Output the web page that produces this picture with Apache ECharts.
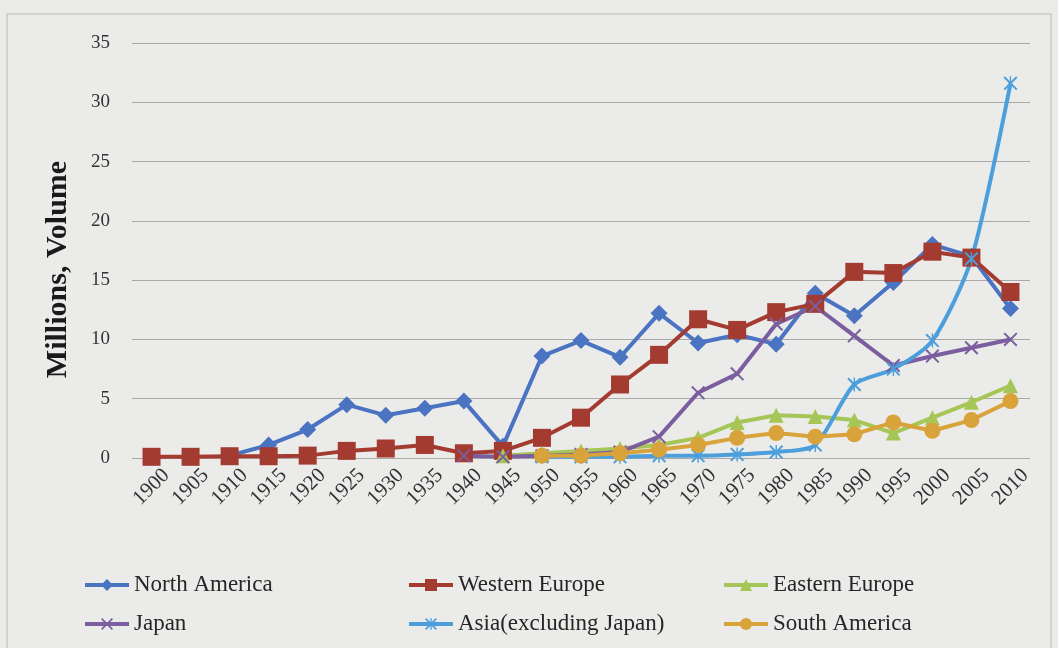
<!DOCTYPE html>
<html>
<head>
<meta charset="utf-8">
<script src="https://cdn.jsdelivr.net/npm/echarts@6/dist/echarts.min.js"></script>
<style>
  html, body { margin: 0; padding: 0; background: #ebebe9; }
  #chart { width: 1058px; height: 648px; }
</style>
</head>
<body>
<div id="chart"></div>
<script>
// Vehicle production by region, 1900–2010 (millions)
const years = ['1900','1905','1910','1915','1920','1925','1930','1935','1940','1945','1950','1955',
               '1960','1965','1970','1975','1980','1985','1990','1995','2000','2005','2010'];

const northAmerica = [null, null, 0.2, 1.1, 2.4, 4.5, 3.6, 4.2, 4.8, 1.0, 8.6, 9.9,
                      8.5, 12.2, 9.7, 10.4, 9.6, 13.9, 12.0, 14.8, 18.0, 17.0, 12.6];
const westernEurope = [0.1, 0.1, 0.15, 0.15, 0.2, 0.6, 0.8, 1.1, 0.4, 0.6, 1.7, 3.4,
                       6.2, 8.7, 11.7, 10.8, 12.3, 13.0, 15.7, 15.6, 17.4, 16.9, 14.0];
const easternEurope = [null, null, null, null, null, null, null, null, null, 0.2, 0.4, 0.6,
                       0.8, 1.1, 1.7, 3.0, 3.6, 3.5, 3.2, 2.1, 3.4, 4.7, 6.1];
const japan = [null, null, null, null, null, null, null, null, 0.2, 0.1, 0.2, 0.3,
               0.5, 1.8, 5.5, 7.1, 11.3, 12.8, 10.3, 7.8, 8.6, 9.3, 10.0];
const asiaExJapan = [null, null, null, null, null, null, null, null, null, null, 0.1, 0.1,
                     0.1, 0.2, 0.2, 0.3, 0.5, 1.1, 6.2, 7.5, 9.9, 16.8, 31.6];
const southAmerica = [null, null, null, null, null, null, null, null, null, null, 0.2, 0.2,
                      0.4, 0.7, 1.1, 1.7, 2.1, 1.8, 2.0, 3.0, 2.3, 3.2, 4.8];

const seriesNames = ['North America', 'Western Europe', 'Eastern Europe',
                     'Japan', 'Asia(excluding Japan)', 'South America'];
const yTicks = { min: 0, max: 35, step: 5 };

const SERIF = '"Liberation Serif", "DejaVu Serif", serif';

// Marker shapes: a thin cross, and a cross with a vertical bar
const crossPath = 'path://M2,0L10,8L18,0L20,2L12,10L20,18L18,20L10,12L2,20L0,18L8,10L0,2Z';
const starPath = 'path://M2,0L10,8L18,0L20,2L12,10L20,18L18,20L10,12L2,20L0,18L8,10L0,2Z M9,0H11V20H9Z';

function lineSeries(name, data, color, symbol, size, extra) {
  return Object.assign({
    name: name,
    type: 'line',
    data: data,
    symbol: symbol,
    symbolSize: size,
    showSymbol: true,
    connectNulls: false,
    lineStyle: { color: color, width: 4 },
    itemStyle: { color: color, borderWidth: 0 },
    emphasis: { disabled: true },
    animation: false
  }, extra || {});
}

const chart = echarts.init(document.getElementById('chart'), null, { renderer: 'canvas' });

const legendBase = {
  orient: 'vertical',
  top: 573,
  padding: 0,
  itemWidth: 44,
  itemHeight: 15,
  itemGap: 15,
  lineStyle: { width: 4 },
  textStyle: { fontFamily: SERIF, fontSize: 23, lineHeight: 24, color: '#262626' },
  selectedMode: false
};

chart.setOption({
  backgroundColor: '#ebebe9',
  graphic: [{
    type: 'rect',
    shape: { x: 7, y: 14, width: 1044, height: 660 },
    style: { fill: 'transparent', stroke: '#c9c9c7', lineWidth: 1.5 },
    silent: true
  }],
  grid: { left: 132, right: 28, top: 43, bottom: 190 },
  legend: [
    Object.assign({ left: 83, data: [seriesNames[0], seriesNames[3]] }, legendBase),
    Object.assign({ left: 407, data: [seriesNames[1], seriesNames[4]] }, legendBase),
    Object.assign({ left: 722, data: [seriesNames[2], seriesNames[5]] }, legendBase)
  ],
  xAxis: {
    type: 'category',
    data: years,
    boundaryGap: true,
    axisLine: { show: false },
    axisTick: { show: false },
    axisLabel: {
      rotate: 45,
      interval: 0,
      margin: 29,
      align: 'center',
      verticalAlign: 'middle',
      fontFamily: SERIF,
      fontSize: 21,
      color: '#333333'
    }
  },
  yAxis: {
    type: 'value',
    min: yTicks.min,
    max: yTicks.max,
    interval: yTicks.step,
    name: 'Millions, Volume',
    nameLocation: 'middle',
    nameGap: 59,
    nameTextStyle: {
      fontFamily: SERIF, fontSize: 30, fontWeight: 'bold', color: '#1a1a1a',
      padding: [0, 38, 0, 0]
    },
    axisLine: { show: false },
    axisTick: { show: false },
    axisLabel: { margin: 22, fontFamily: SERIF, fontSize: 19, color: '#333333' },
    splitLine: { lineStyle: { color: '#a9a9a7', width: 1 } }
  },
  series: [
    lineSeries(seriesNames[0], northAmerica, '#4a73c2', 'diamond', 17),
    lineSeries(seriesNames[1], westernEurope, '#a33b31', 'rect', 18),
    lineSeries(seriesNames[2], easternEurope, '#a6c658', 'triangle', 15),
    lineSeries(seriesNames[3], japan, '#7b5e9f', crossPath, 14),
    lineSeries(seriesNames[4], asiaExJapan, '#4d9fdc', starPath, 14, { smooth: 0.25, z: 3 }),
    lineSeries(seriesNames[5], southAmerica, '#d9a33c', 'circle', 16)
  ]
});
</script>
</body>
</html>
